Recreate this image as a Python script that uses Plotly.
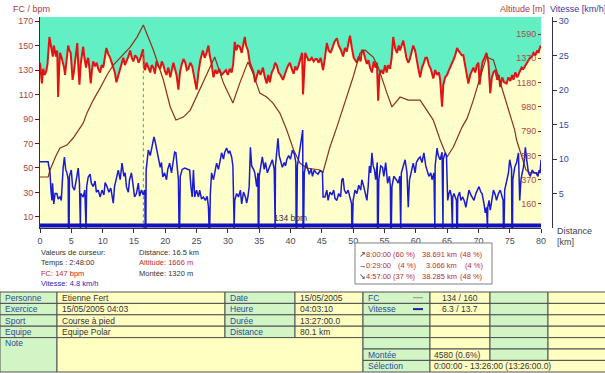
import plotly.graph_objects as go

# ---------------- data ----------------
# heart rate: (distance km, bpm)
hr_samples = [
    (0.0, 136), (0.15, 128), (0.3, 119), (0.5, 131), (0.75, 126), (1.0, 129), (1.2, 135), (1.5, 157),
    (1.7, 150), (1.9, 146), (2.05, 141), (2.2, 150), (2.4, 145), (2.55, 141), (2.75, 146), (2.9, 108),
    (3.05, 130), (3.2, 144), (3.45, 140), (3.7, 136), (3.85, 132), (4.0, 126), (4.2, 138), (4.5, 150),
    (4.7, 146), (4.9, 144), (5.05, 133), (5.2, 122), (5.4, 128), (5.6, 138), (5.8, 145), (5.95, 152),
    (6.15, 130), (6.3, 118), (6.5, 135), (6.7, 144), (6.9, 149), (7.1, 140), (7.35, 132), (7.5, 137),
    (7.7, 140), (7.9, 131), (8.1, 119), (8.3, 130), (8.5, 137), (8.8, 133), (9.05, 136), (9.3, 131),
    (9.6, 128), (9.85, 134), (10.1, 132), (10.35, 140), (10.6, 148), (10.9, 143), (11.2, 140), (11.45, 136),
    (11.7, 132), (11.95, 128), (12.2, 120), (12.5, 126), (12.8, 130), (13.05, 135), (13.3, 140), (13.55, 134),
    (13.8, 137), (14.1, 141), (14.4, 146), (14.65, 140), (14.9, 137), (15.2, 142), (15.5, 140), (15.75, 136),
    (16.0, 139), (16.2, 142), (16.45, 147), (16.6, 132), (16.8, 130), (17.0, 136), (17.3, 131), (17.6, 128),
    (17.85, 134), (18.1, 132), (18.35, 127), (18.6, 137), (18.9, 133), (19.2, 131), (19.45, 137), (19.7, 134),
    (19.95, 129), (20.2, 126), (20.5, 132), (20.8, 124), (21.05, 130), (21.3, 136), (21.55, 131), (21.8, 126),
    (22.1, 114), (22.35, 128), (22.6, 134), (22.9, 139), (23.2, 136), (23.45, 130), (23.7, 131), (24.0, 136),
    (24.3, 133), (24.6, 125), (25.0, 114), (25.3, 128), (25.6, 138), (26.0, 146), (26.3, 140), (26.6, 144),
    (26.9, 150), (27.1, 142), (27.4, 135), (27.7, 124), (28.0, 130), (28.3, 127), (28.6, 131), (29.0, 126),
    (29.3, 128), (29.7, 130), (30.0, 126), (30.3, 131), (30.6, 128), (30.85, 135), (31.1, 153), (31.35, 146),
    (31.6, 150), (31.9, 149), (32.2, 144), (32.45, 152), (32.7, 157), (32.9, 150), (33.2, 146), (33.5, 136),
    (33.8, 131), (34.1, 128), (34.35, 120), (34.6, 124), (34.9, 130), (35.2, 126), (35.6, 132), (35.9, 124),
    (36.2, 119), (36.45, 126), (36.7, 120), (37.0, 128), (37.3, 131), (37.55, 136), (37.8, 134), (38.1, 128),
    (38.4, 126), (38.8, 122), (39.1, 127), (39.4, 131), (39.65, 134), (39.9, 136), (40.2, 131), (40.5, 127),
    (40.75, 133), (41.0, 130), (41.3, 134), (41.6, 140), (41.85, 144), (42.0, 110), (42.15, 130), (42.35, 144),
    (42.6, 141), (42.85, 138), (43.1, 138), (43.4, 140), (43.7, 137), (44.0, 139), (44.2, 139), (44.5, 136),
    (44.8, 140), (45.0, 136), (45.2, 130), (45.5, 140), (45.8, 152), (46.1, 146), (46.4, 144), (46.7, 148),
    (47.0, 153), (47.4, 156), (47.7, 150), (48.0, 147), (48.2, 144), (48.4, 141), (48.7, 148), (49.0, 145),
    (49.25, 152), (49.5, 158), (49.8, 148), (50.1, 140), (50.35, 138), (50.6, 136), (50.9, 141), (51.2, 137),
    (51.4, 146), (51.6, 146), (51.9, 140), (52.2, 135), (52.45, 138), (52.7, 132), (53.0, 128), (53.3, 137),
    (53.55, 132), (53.8, 136), (54.0, 105), (54.2, 126), (54.5, 130), (54.8, 127), (55.1, 134), (55.35, 128),
    (55.6, 134), (55.9, 131), (56.15, 140), (56.4, 157), (56.7, 148), (57.0, 144), (57.3, 150), (57.5, 146),
    (57.75, 150), (58.0, 154), (58.3, 146), (58.5, 140), (58.8, 136), (59.0, 138), (59.3, 144), (59.6, 150),
    (59.9, 146), (60.2, 136), (60.45, 130), (60.7, 124), (61.0, 132), (61.3, 136), (61.55, 140), (61.8, 140),
    (62.1, 134), (62.4, 131), (62.8, 123), (63.1, 130), (63.4, 126), (63.7, 128), (63.9, 122), (64.2, 100),
    (64.4, 118), (64.7, 124), (65.0, 126), (65.3, 130), (65.7, 134), (66.0, 138), (66.3, 142), (66.6, 148),
    (66.8, 146), (67.1, 144), (67.35, 142), (67.6, 142), (67.9, 134), (68.1, 128), (68.4, 119), (68.7, 126),
    (69.0, 130), (69.2, 132), (69.5, 128), (69.75, 134), (70.0, 136), (70.2, 118), (70.45, 130), (70.7, 137),
    (71.0, 140), (71.3, 144), (71.6, 136), (71.9, 111), (72.15, 124), (72.4, 128), (72.7, 130), (73.0, 122),
    (73.25, 126), (73.5, 116), (73.8, 124), (74.1, 120), (74.5, 119), (74.8, 124), (75.1, 121), (75.4, 126),
    (75.6, 122), (75.9, 128), (76.2, 124), (76.6, 128), (76.9, 132), (77.2, 131), (77.5, 134), (77.7, 136),
    (78.0, 138), (78.3, 140), (78.55, 141), (78.8, 144), (79.1, 142), (79.4, 146), (79.6, 144), (79.8, 148),
    (80.0, 150),
]

# altitude: (distance km, m)
alt_samples = [
    (0.0, 387), (1.3, 387), (1.6, 446), (2.5, 560), (3.2, 631), (4.3, 656), (5.3, 715), (6.4, 799),
    (6.9, 840), (7.5, 925), (8.5, 1034), (9.6, 1135), (10.7, 1245), (11.7, 1329), (12.8, 1388), (14.4, 1480),
    (15.5, 1564), (16.5, 1666), (17.3, 1560), (18.1, 1455), (19.7, 1203), (20.8, 976), (21.7, 866), (22.9, 891),
    (24.0, 950), (25.5, 1119), (27.1, 1312), (27.9, 1396), (29.3, 1177), (30.8, 1009), (31.9, 1177), (33.2, 1354),
    (34.0, 1262), (35.1, 1093), (36.2, 1060), (37.2, 1009), (38.3, 925), (39.4, 782), (40.5, 614), (41.5, 505),
    (42.6, 463), (44.7, 446), (45.2, 429), (46.3, 639), (47.4, 807), (49.0, 1060), (50.0, 1228), (51.1, 1430),
    (51.9, 1455), (53.2, 1396), (54.0, 1312), (55.4, 1093), (56.2, 976), (57.5, 1060), (58.8, 1034), (60.7, 1034),
    (61.8, 950), (62.8, 866), (63.9, 698), (65.0, 555), (66.0, 639), (67.4, 807), (68.2, 880), (69.2, 1034),
    (70.3, 1228), (71.3, 1396), (72.4, 1371), (73.5, 1177), (75.0, 925), (75.8, 782), (76.1, 698), (77.0, 555),
    (77.6, 446), (78.3, 421), (79.8, 421), (80.0, 440),
]

# speed: (distance km, km/h)
speed_samples = [
    (0.0, 9.6), (1.3, 9.6), (1.4, 9.0), (1.6, 8.0), (1.75, 5.5), (1.9, 4.0), (2.0, 6.5), (2.2, 3.5),
    (2.4, 5.0), (2.7, 5.0), (2.9, 4.2), (3.2, 4.5), (3.4, 4.0), (3.55, 7.5), (3.7, 8.8), (3.9, 10.3),
    (4.1, 8.5), (4.3, 8.0), (4.5, 7.0), (4.55, 0), (4.65, 0), (4.7, 7.5), (5.0, 8.4), (5.2, 6.0),
    (5.5, 5.5), (5.8, 7.0), (6.1, 8.7), (6.3, 6.5), (6.35, 0), (6.45, 0), (6.5, 5.0), (6.9, 4.5),
    (7.15, 5.5), (7.25, 0), (7.35, 0), (7.45, 6.0), (7.7, 7.4), (8.0, 7.8), (8.2, 6.5), (8.5, 6.0),
    (8.8, 6.8), (9.0, 5.2), (9.3, 5.5), (9.6, 4.5), (9.9, 5.5), (10.2, 4.8), (10.4, 6.6), (10.7, 6.0),
    (11.0, 5.2), (11.3, 5.8), (11.5, 4.5), (11.7, 3.6), (11.9, 6.0), (12.2, 7.5), (12.5, 8.4), (12.8, 7.0),
    (13.1, 9.4), (13.4, 7.5), (13.6, 8.0), (13.8, 6.0), (14.1, 5.2), (14.3, 7.0), (14.6, 8.0), (14.9, 6.0),
    (15.1, 4.5), (15.4, 5.0), (15.7, 6.5), (15.9, 4.6), (16.2, 5.5), (16.5, 4.8), (16.75, 5.5), (16.8, 0),
    (16.9, 0), (16.95, 8.4), (17.1, 10.0), (17.3, 11.3), (17.6, 10.5), (17.9, 12.0), (18.2, 13.2), (18.4, 12.5),
    (18.7, 11.0), (18.9, 10.3), (19.2, 8.8), (19.4, 9.5), (19.6, 7.4), (19.9, 8.0), (20.2, 7.0), (20.4, 8.5),
    (20.7, 9.4), (21.0, 8.0), (21.3, 10.0), (21.5, 11.0), (21.7, 10.9), (21.9, 9.0), (22.1, 7.0), (22.2, 0),
    (22.3, 0), (22.4, 7.5), (22.7, 8.5), (23.1, 8.7), (23.4, 8.6), (23.9, 8.4), (24.1, 6.0), (24.3, 4.5),
    (24.5, 8.4), (24.7, 4.5), (25.0, 5.5), (25.3, 4.5), (25.5, 5.5), (25.8, 4.2), (26.1, 4.5), (26.4, 4.0),
    (26.7, 4.6), (26.9, 3.0), (27.0, 0), (27.1, 0), (27.2, 5.0), (27.4, 8.0), (27.7, 7.0), (28.0, 8.8),
    (28.2, 9.4), (28.5, 8.5), (28.8, 10.2), (29.0, 10.9), (29.3, 10.0), (29.5, 11.0), (29.8, 11.6), (30.1, 10.8),
    (30.3, 11.2), (30.6, 10.3), (30.8, 9.0), (30.9, 0), (31.0, 0), (31.1, 4.0), (31.4, 5.0), (31.7, 4.5),
    (32.0, 5.5), (32.2, 3.5), (32.5, 5.2), (32.8, 4.5), (33.0, 3.6), (33.2, 4.5), (33.4, 6.0), (33.6, 11.7),
    (33.8, 9.0), (34.1, 8.5), (34.3, 8.0), (34.6, 6.0), (34.8, 8.0), (34.85, 0), (34.95, 0), (35.0, 7.5),
    (35.3, 9.0), (35.5, 10.3), (35.8, 8.5), (36.0, 9.5), (36.3, 8.0), (36.6, 8.8), (36.9, 9.5), (37.1, 9.9),
    (37.4, 8.5), (37.45, 0), (37.55, 0), (37.6, 9.0), (37.85, 11.0), (38.0, 13.0), (38.2, 10.5), (38.5, 9.2),
    (38.7, 8.8), (39.0, 9.5), (39.2, 9.0), (39.4, 9.9), (39.7, 10.5), (40.0, 10.0), (40.3, 11.3), (40.6, 10.8),
    (40.85, 9.5), (40.9, 0), (41.0, 0), (41.1, 9.0), (41.4, 11.0), (41.6, 12.0), (41.8, 13.2), (41.95, 14.2),
    (42.0, 0), (42.1, 0), (42.2, 8.0), (42.5, 9.5), (42.7, 8.7), (43.0, 7.8), (43.3, 8.6), (43.5, 7.5),
    (43.8, 8.4), (44.1, 8.0), (44.4, 7.8), (44.7, 8.3), (45.1, 8.1), (45.2, 4.5), (45.5, 4.5), (45.8, 5.5),
    (46.0, 4.0), (46.3, 5.2), (46.6, 4.8), (46.9, 5.5), (47.1, 4.3), (47.4, 4.0), (47.7, 5.0), (48.0, 4.5),
    (48.2, 7.0), (48.4, 7.2), (48.6, 5.5), (48.9, 5.0), (49.2, 5.5), (49.5, 4.5), (49.75, 3.5), (49.8, 0),
    (49.9, 0), (50.0, 4.0), (50.3, 5.5), (50.6, 5.0), (50.9, 6.2), (51.2, 5.5), (51.4, 7.0), (51.7, 6.0),
    (52.0, 5.0), (52.2, 4.0), (52.4, 6.0), (52.6, 9.0), (52.8, 8.0), (53.0, 10.9), (53.2, 9.0), (53.4, 8.5),
    (53.6, 7.0), (53.85, 9.5), (53.9, 0), (54.0, 0), (54.1, 7.0), (54.4, 9.0), (54.7, 8.8), (54.9, 7.5),
    (55.2, 9.5), (55.5, 6.5), (55.8, 7.5), (55.95, 6.0), (56.0, 0), (56.1, 0), (56.2, 6.0), (56.5, 7.5),
    (56.9, 7.0), (57.2, 6.5), (57.45, 7.5), (57.5, 0), (57.6, 0), (57.7, 8.0), (58.0, 9.0), (58.3, 9.9),
    (58.6, 8.0), (58.8, 3.0), (59.0, 7.0), (59.3, 8.5), (59.6, 9.4), (59.9, 8.0), (60.1, 9.5), (60.4, 10.0),
    (60.7, 10.3), (61.0, 9.5), (61.3, 10.9), (61.6, 9.0), (61.8, 8.4), (62.1, 7.5), (62.4, 8.0), (62.6, 7.0),
    (62.9, 8.0), (62.95, 0), (63.05, 0), (63.1, 9.0), (63.4, 11.6), (63.6, 10.5), (63.9, 9.9), (64.2, 11.0),
    (64.25, 0), (64.35, 0), (64.4, 10.0), (64.7, 10.9), (64.9, 10.5), (65.1, 4.0), (65.3, 5.0), (65.5, 5.5),
    (65.7, 4.5), (65.75, 0), (65.85, 0), (65.9, 4.5), (66.1, 5.0), (66.3, 4.5), (66.5, 4.0), (66.55, 0),
    (66.65, 0), (66.7, 4.5), (67.0, 5.2), (67.2, 4.0), (67.5, 4.5), (67.8, 3.8), (68.0, 3.0), (68.3, 4.5),
    (68.5, 5.5), (68.8, 4.8), (69.1, 4.2), (69.3, 4.0), (69.6, 5.0), (69.9, 5.5), (70.1, 6.0), (70.4, 5.2),
    (70.6, 5.0), (70.9, 3.5), (71.1, 2.2), (71.3, 3.0), (71.35, 0), (71.45, 0), (71.5, 3.0), (71.7, 4.0),
    (71.9, 2.6), (72.2, 4.5), (72.4, 5.5), (72.7, 4.8), (72.9, 4.0), (73.2, 5.0), (73.5, 5.5), (73.8, 4.5),
    (73.95, 4.0), (74.0, 0), (74.1, 0), (74.2, 5.5), (74.5, 7.0), (74.8, 8.0), (75.0, 9.9), (75.3, 8.5),
    (75.35, 0), (75.45, 0), (75.5, 7.0), (75.8, 8.8), (76.1, 9.5), (76.4, 10.9), (76.6, 4.0), (76.8, 7.0),
    (77.0, 8.0), (77.2, 8.8), (77.35, 10.0), (77.5, 11.7), (77.7, 10.0), (78.0, 8.0), (78.3, 7.5), (78.6, 8.4),
    (78.9, 8.0), (79.2, 8.0), (79.5, 7.5), (79.7, 8.4), (79.85, 8.0), (80.0, 9.9),
]

km_ticks = [0, 5, 10, 15, 20, 25, 30, 35, 40, 45, 50, 55, 60, 65, 70, 75, 80]
hr_ticks = [10, 30, 50, 70, 90, 110, 130, 150, 170]
alt_tick_vals = [160, 364.3, 568.6, 772.9, 977.1, 1181.4, 1385.7, 1590]
alt_tick_text = ["160", "370", "580", "790", "980", "1180", "1370", "1590"]
speed_ticks = [5, 10, 15, 20, 25, 30]

cursor_km = [16.5, 16.5]
cursor_hr = [0, 147]
baseline_km = [0, 80]
baseline_speed = [0.35, 0.35]
avg_hr_label = "134 bpm"

cursor_left = ["Valeurs de curseur:", "Temps : 2:48:00", "FC: 147 bpm", "Vitesse: 4.8 km/h"]
cursor_right = ["Distance: 16.5 km", "Altitude: 1666 m", "Montée: 1320 m"]
slope_arrows = ["↗", "→", "↘"]
slope_time = ["8:00:00", "0:29:00", "4:57:00"]
slope_tpct = ["(60 %)", "(4 %)", "(37 %)"]
slope_dist = ["38.691 km", "3.066 km", "38.285 km"]
slope_dpct = ["(48 %)", "(4 %)", "(48 %)"]

# ---------------- geometry helpers (pixels -> paper) ----------------
W, H = 605, 373
L, R, T, B = 40, 541, 17, 228      # plot area in pixels
PR = 552                            # speed axis line (paper right edge)
FONT = "Liberation Sans, Arial, sans-serif"


def xp(px):
    return (px - L) / (PR - L)


def yp(py):
    return (B - py) / (B - T)


hr_km = [p[0] for p in hr_samples]
hr_bpm = [p[1] for p in hr_samples]
alt_km = [p[0] for p in alt_samples]
alt_m = [p[1] for p in alt_samples]
sp_km = [p[0] for p in speed_samples]
sp_kmh = [p[1] for p in speed_samples]

fig = go.Figure()
fig.add_trace(go.Scatter(x=hr_km, y=hr_bpm, mode="lines", fill="tozeroy", fillcolor="#FFFFCC",
                         line=dict(color="#E01414", width=2.0), yaxis="y", hoverinfo="skip"))
fig.add_trace(go.Scatter(x=cursor_km, y=cursor_hr, mode="lines",
                         line=dict(color="#2DB52D", width=1, dash="dot"), yaxis="y", hoverinfo="skip"))
fig.add_trace(go.Scatter(x=alt_km, y=alt_m, mode="lines",
                         line=dict(color="#8C3218", width=1.2), yaxis="y2", hoverinfo="skip"))
fig.add_trace(go.Scatter(x=sp_km, y=sp_kmh, mode="lines",
                         line=dict(color="#1A1AD2", width=1.5), yaxis="y3", hoverinfo="skip"))
fig.add_trace(go.Scatter(x=baseline_km, y=baseline_speed, mode="lines",
                         line=dict(color="#1212C0", width=4), yaxis="y3", hoverinfo="skip"))

shapes = []
annotations = []


def txt(px, py, s, color, size=9, xanchor="left"):
    annotations.append(dict(x=xp(px), y=yp(py), xref="paper", yref="paper", text=s, showarrow=False,
                            xanchor=xanchor, yanchor="middle", borderpad=0,
                            font=dict(size=size, color=color, family=FONT)))


def rect(x0, y0, x1, y1, fill, line="#505050", width=1):
    shapes.append(dict(type="rect", xref="paper", yref="paper", x0=xp(x0), x1=xp(x1), y0=yp(y1), y1=yp(y0),
                       fillcolor=fill, line=dict(color=line, width=width)))


def hline(x0, x1, y, color, width):
    shapes.append(dict(type="line", xref="paper", yref="paper", x0=xp(x0), x1=xp(x1), y0=yp(y), y1=yp(y),
                       line=dict(color=color, width=width)))


# titles
txt(12, 9, "FC / bpm", "#B03A3A", 9)
txt(546, 9, "Altitude [m]", "#B03A3A", 9, "right")
txt(549, 9, "Vitesse [km/h]", "#3838A8", 9)
txt(556, 231, "Distance", "#404050", 9)
txt(556, 242, "[km]", "#404050", 9)
txt(290, 218, avg_hr_label, "#303050", 8.5, "center")

# cursor values
CS = 7.5
cl_col = ["#333333", "#333333", "#D02020", "#2828B8"]
for i, s in enumerate(cursor_left):
    txt(40, 252 + i * 10.5, s, cl_col[i], CS)
cr_col = ["#333333", "#C03030", "#333333"]
for i, s in enumerate(cursor_right):
    txt(138, 252 + i * 10.5, s, cr_col[i], CS)

# slope summary box
rect(355, 243, 492, 284, "#FFFFFF", "#808080")
SS = 7.5
for i in range(3):
    yy = 255 + i * 10.5
    txt(358, yy, slope_arrows[i], "#333333", SS)
    txt(365, yy, slope_time[i], "#B83030", SS)
    txt(417, yy, slope_tpct[i], "#B83030", SS, "right")
    txt(458, yy, slope_dist[i], "#B83030", SS, "right")
    txt(484, yy, slope_dpct[i], "#B83030", SS, "right")

# info table
GREEN = "#D2F5C6"
YELLOW = "#FFFFC2"
LAB = "#2A4A9A"
VAL = "#333333"
TS = 8.5
cols = [0, 57, 225, 295, 363, 430, 490, 548, 606]
rows = [292, 303.4, 314.8, 326.2, 337.6, 349.0, 360.4, 372]
table_left = [["Personne", "Etienne Fert", "Date", "15/05/2005", "FC", "134 / 160"],
              ["Exercice", "15/05/2005 04:03", "Heure", "04:03:10", "Vitesse", "6.3 / 13.7"],
              ["Sport", "Course à pied", "Durée", "13:27:00.0", "", ""],
              ["Equipe", "Equipe Polar", "Distance", "80.1 km", "", ""]]
for r, row in enumerate(table_left):
    y0, y1 = rows[r], rows[r + 1]
    for c in range(8):
        rect(cols[c], y0, cols[c + 1], y1, GREEN if c % 2 == 0 else YELLOW)
    for c, s in enumerate(row):
        if not s:
            continue
        if c == 5:
            txt((cols[5] + cols[6]) / 2, (y0 + y1) / 2, s, VAL, TS, "center")
        else:
            txt(cols[c] + 4, (y0 + y1) / 2, s, LAB if c % 2 == 0 else VAL, TS)
# legend dashes for FC / Vitesse
hline(413, 423, (rows[0] + rows[1]) / 2, "#909090", 1)
hline(413, 423, (rows[1] + rows[2]) / 2, "#2020A0", 2)

# note block
rect(cols[0], rows[4], cols[1], rows[7], GREEN)
rect(cols[1], rows[4], cols[4], rows[7], YELLOW)
txt(4, (rows[4] + rows[5]) / 2, "Note", LAB, TS)
for c in range(4, 8):
    rect(cols[c], rows[4], cols[c + 1], rows[5], GREEN if c % 2 == 0 else YELLOW)
for c in range(4, 8):
    rect(cols[c], rows[5], cols[c + 1], rows[6], GREEN if c % 2 == 0 else YELLOW)
txt(cols[4] + 4, (rows[5] + rows[6]) / 2, "Montée", LAB, TS)
txt(cols[5] + 3, (rows[5] + rows[6]) / 2, "4580 (0.6%)", VAL, TS)
rect(cols[4], rows[6], cols[5], rows[7], GREEN)
rect(cols[5], rows[6], cols[8], rows[7], YELLOW)
txt(cols[4] + 4, (rows[6] + rows[7]) / 2, "Sélection", LAB, TS)
txt(cols[5] + 3, (rows[6] + rows[7]) / 2, "0:00:00 - 13:26:00 (13:26:00.0)", VAL, TS)

fig.update_layout(
    width=W, height=H,
    margin=dict(l=L, r=W - PR, t=T, b=H - B, pad=0),
    paper_bgcolor="#FFFFFF",
    plot_bgcolor="#62EFC4",
    showlegend=False,
    font=dict(family=FONT, size=9),
    xaxis=dict(domain=[0, (R - L) / (PR - L)], range=[0, 80], tickvals=km_ticks, ticks="outside", ticklen=4,
               tickcolor="#303040", showline=True, linecolor="#303040", showgrid=False, zeroline=False,
               tickfont=dict(size=9, color="#4A4A5A")),
    yaxis=dict(range=[1, 173.3], tickvals=hr_ticks, ticks="outside", ticklen=4, tickcolor="#7A1010",
               showline=True, linecolor="#7A1010", showgrid=False, zeroline=False,
               tickfont=dict(size=9, color="#B04545")),
    yaxis2=dict(overlaying="y", side="left", anchor="free", position=(R - L) / (PR - L),
                range=[-42, 1733], tickvals=alt_tick_vals, ticktext=alt_tick_text, ticks="outside",
                ticklen=3, tickcolor="#8C3218", showgrid=False, zeroline=False, showline=False,
                tickfont=dict(size=9, color="#B04848")),
    yaxis3=dict(overlaying="y", side="right", anchor="free", position=1.0, range=[0, 30.6],
                tickvals=speed_ticks, ticks="outside", ticklen=4, tickcolor="#303050", showline=True,
                linecolor="#303050", showgrid=False, zeroline=False,
                tickfont=dict(size=9, color="#3848A8")),
    shapes=shapes,
    annotations=annotations,
)

fig.write_html("out.html", config={"displayModeBar": False},
               post_script="document.body.style.margin='0px';")
